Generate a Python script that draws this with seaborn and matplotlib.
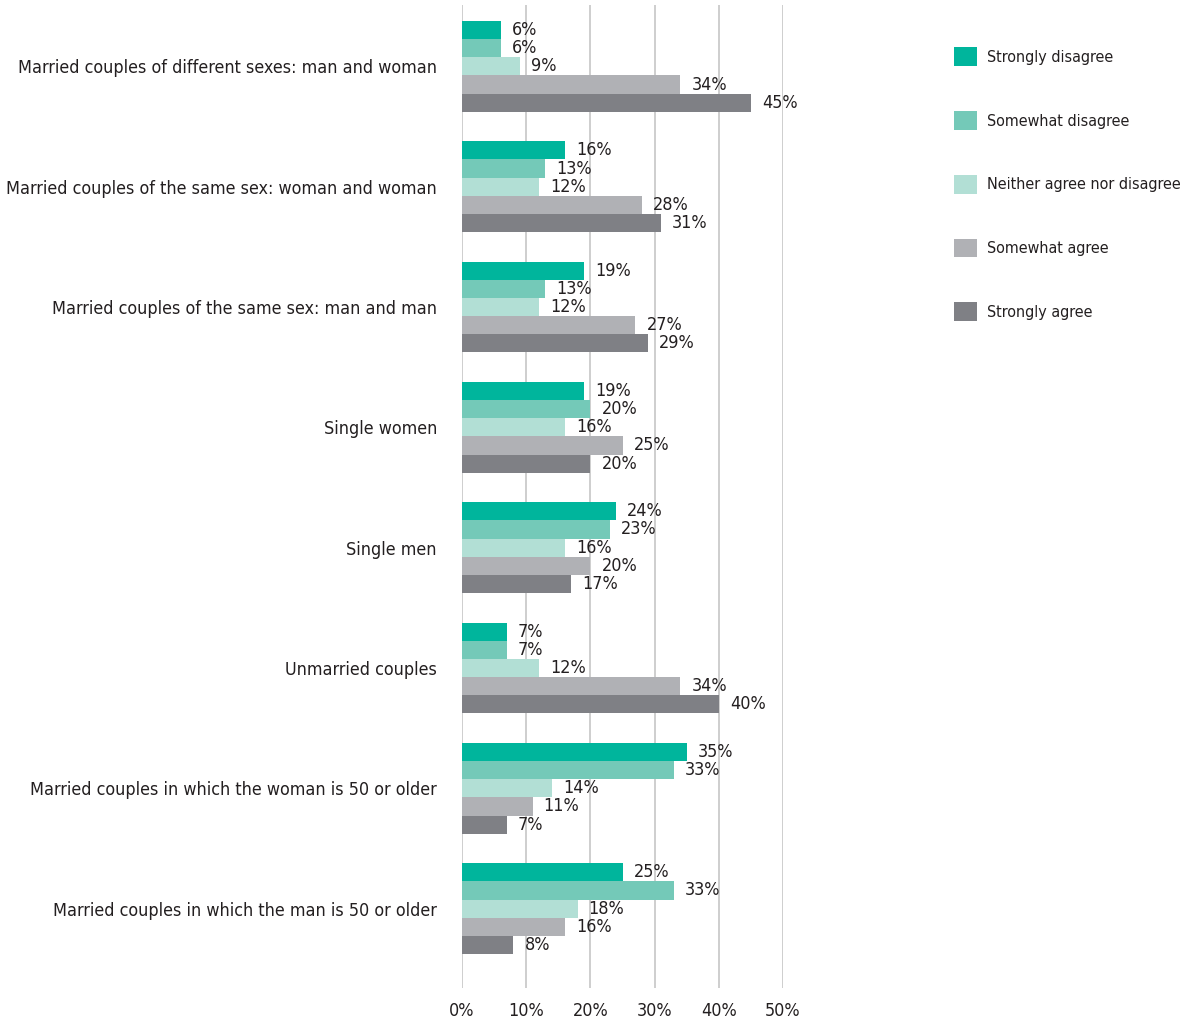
import pandas as pd
import matplotlib
matplotlib.use("Agg")
import matplotlib.pyplot as plt
import seaborn as sns

# Data
categories = [
    "Married couples of different sexes: man and woman",
    "Married couples of the same sex: woman and woman",
    "Married couples of the same sex: man and man",
    "Single women",
    "Single men",
    "Unmarried couples",
    "Married couples in which the woman is 50 or older",
    "Married couples in which the man is 50 or older",
]
responses = ["Strongly disagree", "Somewhat disagree", "Neither agree nor disagree",
             "Somewhat agree", "Strongly agree"]
strongly_disagree = [6, 16, 19, 19, 24, 7, 35, 25]
somewhat_disagree = [6, 13, 13, 20, 23, 7, 33, 33]
neither = [9, 12, 12, 16, 16, 12, 14, 18]
somewhat_agree = [34, 28, 27, 25, 20, 34, 11, 16]
strongly_agree = [45, 31, 29, 20, 17, 40, 7, 8]
tick_values = [0, 10, 20, 30, 40, 50]

colors = ["#00b59c", "#74c9b8", "#b2dfd5", "#b0b1b5", "#7f8085"]
TEXT = "#231f20"

series = [strongly_disagree, somewhat_disagree, neither, somewhat_agree, strongly_agree]
rows = []
for resp, vals in zip(responses, series):
    for cat, v in zip(categories, vals):
        rows.append({"category": cat, "response": resp, "value": v})
df = pd.DataFrame(rows)

sns.set_style("white")
plt.rcParams["font.family"] = ["DejaVu Sans"]
plt.rcParams["font.stretch"] = "condensed"

fig = plt.figure(figsize=(11.84, 10.23), dpi=100)
ax = fig.add_axes([462 / 1184, 1 - 988 / 1023, (783 - 462) / 1184, (988 - 5) / 1023])


def fit_size(text, width_px, base=15):
    # font size that makes text about width_px wide
    probe = fig.text(0, 0, text, fontsize=base)
    w = probe.get_window_extent(renderer=fig.canvas.get_renderer()).width
    probe.remove()
    return min(base, base * width_px / w)


FS = fit_size(categories[0], 420)
LFS = fit_size(responses[2], 194)
lpx = LFS * 100 / 72  # legend font size in pixels

sns.barplot(data=df, y="category", x="value", hue="response", order=categories,
            hue_order=responses, palette=colors, orient="h", width=0.755,
            saturation=1, linewidth=0, ax=ax, legend=True)

ax.set_xlim(0, 50)
ax.set_ylim(7.66, -0.51)
ax.set_xticks(tick_values)
ax.set_xticklabels([f"{t}%" for t in tick_values])
ax.grid(axis="x", color="#c6c6c6", linewidth=1.2)
ax.set_axisbelow(True)
for s in ax.spines.values():
    s.set_visible(False)
ax.set_xlabel("")
ax.set_ylabel("")
ax.tick_params(axis="y", length=0, pad=18, labelsize=FS, labelcolor=TEXT)
ax.tick_params(axis="x", length=0, pad=10, labelsize=FS, labelcolor=TEXT)

for container in ax.containers:
    labels = [f"{int(round(b.get_width()))}%" for b in container]
    ax.bar_label(container, labels=labels, padding=8, fontsize=FS, color=TEXT, clip_on=False)

handles, labs = ax.get_legend_handles_labels()
ax.get_legend().remove()
fig.legend(handles, labs, loc="upper left", bbox_to_anchor=(954 / 1184, 1 - 47 / 1023),
           frameon=False, fontsize=LFS, labelcolor=TEXT,
           handlelength=23 / lpx, handleheight=23 / lpx,
           handletextpad=10 / lpx, labelspacing=45 / lpx, borderaxespad=0, borderpad=0)

fig.savefig("out.png", dpi=100)
